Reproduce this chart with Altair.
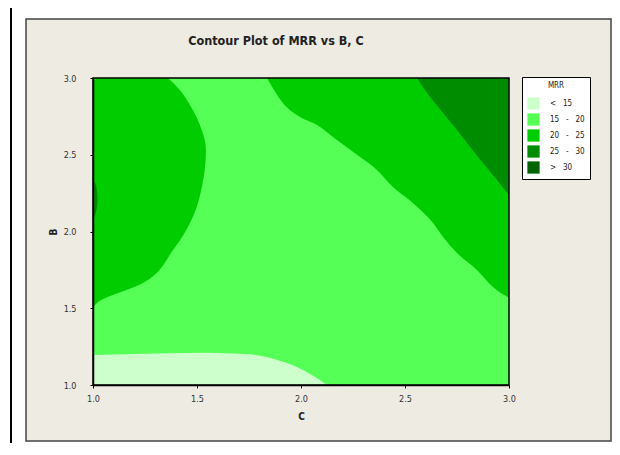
import altair as alt
import pandas as pd

# ---- data ----
levels = ["< 15", "15 - 20", "20 - 25", "25 - 30", "> 30"]
S = "\u00a0\u00a0\u00a0"
F = "\u2007\u2007"
level_labels = [F + S + "<" + S + "15", "15" + S + "-" + S + "20",
                "20" + S + "-" + S + "25", "25" + S + "-" + S + "30",
                F + S + ">" + S + "30"]
colors = ["#ccffcc", "#55ff55", "#00cc00", "#008c00", "#006400"]

# region < 15 (bottom-left): upper boundary B(C)
low_C = [1.0, 1.3, 1.55, 1.75, 1.87, 1.95, 2.01, 2.07, 2.125]
low_B = [1.195, 1.205, 1.21, 1.2, 1.17, 1.135, 1.098, 1.05, 1.0]

# region 20 - 25 (left blob): right boundary C(B)
blob_B = [1.5, 1.534, 1.664, 1.879, 2.094, 2.3, 2.531, 2.694, 2.824, 2.935, 3.0]
blob_C = [1.0, 1.019, 1.24, 1.385, 1.48, 1.525, 1.543, 1.514, 1.466, 1.409, 1.36]

# region 25 - 30 (small bump on left edge): right boundary C(B)
bump_B = [2.07, 2.13, 2.2, 2.28, 2.34]
bump_C = [1.0, 1.015, 1.022, 1.018, 1.0]

# region 20 - 25 (top-right band): lower boundary B(C)
band_C = [1.837, 1.913, 1.995, 2.077, 2.173, 2.284, 2.365, 2.442, 2.538, 2.635, 2.683, 2.75, 2.846, 2.923, 3.0]
band_B = [3.0, 2.837, 2.746, 2.694, 2.596, 2.485, 2.401, 2.29, 2.186, 2.055, 1.964, 1.86, 1.749, 1.638, 1.567]

# region 25 - 30 (top-right corner): lower boundary B(C)
corner_C = [2.558, 2.606, 2.683, 2.75, 2.813, 2.875, 2.942, 3.0]
corner_B = [3.0, 2.902, 2.772, 2.661, 2.55, 2.446, 2.336, 2.238]

x_ticks = [1.0, 1.5, 2.0, 2.5, 3.0]
y_ticks = [1.0, 1.5, 2.0, 2.5, 3.0]
title_text = "Contour Plot of MRR vs B, C"

FONT = "DejaVu Sans Condensed, Liberation Sans Narrow, DejaVu Sans, sans-serif"
W, H = 416, 307
beige = "#eeebe2"

xs = alt.Scale(domain=[1, 3], nice=False, zero=False)
ys = alt.Scale(domain=[1, 3], nice=False, zero=False)

color = alt.Color(
    "level:N",
    scale=alt.Scale(domain=levels, range=colors),
    legend=alt.Legend(
        title="MRR", orient="none", legendX=429, legendY=-1,
        fillColor="white", strokeColor="black", padding=5,
        symbolType="square", symbolSize=150, symbolStrokeWidth=0,
        rowPadding=3, titleAnchor="middle", titlePadding=7,
        titleFontSize=8, titleFontWeight="normal", titleFont=FONT, titleColor="#222",
        labelFontSize=8, labelFont=FONT, labelOffset=10, labelColor="#222",
        labelExpr="[" + ",".join('"%s"' % l for l in level_labels) + "][indexof(" +
                  "[" + ",".join('"%s"' % l for l in levels) + "], datum.label)]",
    ),
)

xenc = alt.X("C:Q", scale=xs,
             axis=alt.Axis(values=x_ticks, format=".1f", title="C", grid=False, zindex=2,
                           tickSize=3, labelPadding=6, titlePadding=8, labelFlush=False,
                           labelFontSize=9, titleFontSize=10, labelFont=FONT, titleFont=FONT,
                           domainColor="black", tickColor="black", labelColor="#333",
                           titleColor="#222", titleFontWeight="bold", domainWidth=1.5))
yenc = alt.Y("B:Q", scale=ys,
             axis=alt.Axis(values=y_ticks, format=".1f", title="B", grid=False, zindex=2,
                           tickSize=3, labelPadding=14, titlePadding=5, labelFlush=False,
                           labelFontSize=9, titleFontSize=10, labelFont=FONT, titleFont=FONT,
                           domainColor="black", tickColor="black", labelColor="#333",
                           titleColor="#222", titleFontWeight="bold", domainWidth=1.5))

panel = alt.Chart(pd.DataFrame({"a": [0]})).mark_rect(
    fill=beige, stroke="#444", strokeWidth=1.5
).encode(x=alt.value(-67), x2=alt.value(518), y=alt.value(-59), y2=alt.value(363))

frame_line = alt.Chart(pd.DataFrame({"a": [0]})).mark_rule(
    color="black", strokeWidth=2
).encode(x=alt.value(-82), y=alt.value(-90), y2=alt.value(380))

base_df = pd.DataFrame({"C": [1.0], "C2": [3.0], "B": [1.0], "B2": [3.0], "level": ["15 - 20"]})
base = alt.Chart(base_df).mark_rect().encode(
    x=xenc, x2="C2:Q", y=yenc, y2="B2:Q", color=color)

low = alt.Chart(pd.DataFrame({"C": low_C, "B": low_B, "level": "< 15"})).mark_area(
    clip=True, interpolate="monotone").encode(
    x=alt.X("C:Q", scale=xs), y=alt.Y("B:Q", scale=ys), y2=alt.datum(1.0), color=color)

blob = alt.Chart(pd.DataFrame({"C": blob_C, "B": blob_B, "level": "20 - 25"})).mark_area(
    orient="horizontal", clip=True, interpolate="monotone").encode(
    y=alt.Y("B:Q", scale=ys), x=alt.X("C:Q", scale=xs), x2=alt.datum(1.0), color=color)

bump = alt.Chart(pd.DataFrame({"C": bump_C, "B": bump_B, "level": "25 - 30"})).mark_area(
    orient="horizontal", clip=True, interpolate="monotone").encode(
    y=alt.Y("B:Q", scale=ys), x=alt.X("C:Q", scale=xs), x2=alt.datum(1.0), color=color)

band = alt.Chart(pd.DataFrame({"C": band_C, "B": band_B, "level": "20 - 25"})).mark_area(
    clip=True, interpolate="monotone").encode(
    x=alt.X("C:Q", scale=xs), y=alt.Y("B:Q", scale=ys), y2=alt.datum(3.0), color=color)

corner = alt.Chart(pd.DataFrame({"C": corner_C, "B": corner_B, "level": "25 - 30"})).mark_area(
    clip=True, interpolate="monotone").encode(
    x=alt.X("C:Q", scale=xs), y=alt.Y("B:Q", scale=ys), y2=alt.datum(3.0), color=color)

border = alt.Chart(base_df).mark_rect(fill="none", stroke="black", strokeWidth=1.5).encode(
    x=alt.X("C:Q", scale=xs), x2="C2:Q", y=alt.Y("B:Q", scale=ys), y2="B2:Q")

title = alt.Chart(pd.DataFrame({"t": [title_text]})).mark_text(
    font=FONT, fontSize=12.5, fontWeight="bold", color="#222", align="center", baseline="middle"
).encode(text="t:N", x=alt.value(183), y=alt.value(-37))

chart = alt.layer(panel, frame_line, base, low, blob, bump, band, corner, border, title).properties(
    width=W, height=H,
    autosize=alt.AutoSizeParams(type="none"),
    padding={"left": 85, "top": 70, "right": 103, "bottom": 58},
    background="white",
).configure_view(stroke=None)

chart.save("out.html", embed_options={"renderer": "svg", "actions": False})
